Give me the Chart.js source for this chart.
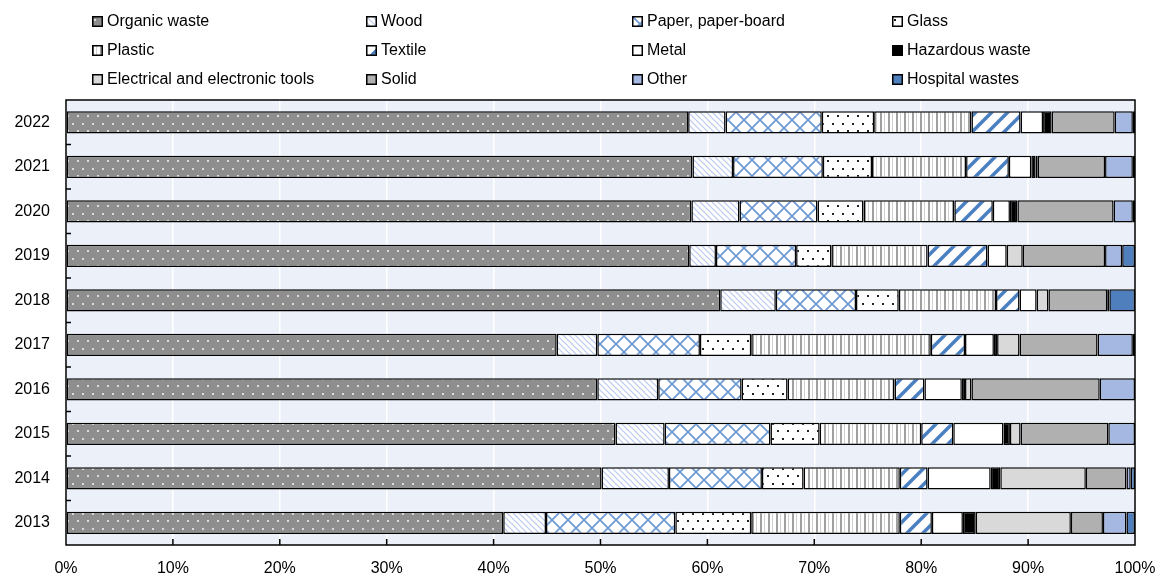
<!DOCTYPE html>
<html lang="en">
<head>
  <meta charset="UTF-8">
  <title>Waste composition</title>
  <script src="https://cdn.jsdelivr.net/npm/chart.js"></script>
  <style>
    body { margin: 0; background: #fff; font-family: "Liberation Sans", Arial, sans-serif; }
    #wrap { position: relative; width: 1162px; height: 579px; }
    #legend { position: absolute; left: 0; top: 0; width: 1162px; height: 95px; }
    .item { position: absolute; display: flex; align-items: center; font-size: 16px; color: #000; white-space: nowrap; }
    .item canvas { margin-right: 4px; }
  </style>
</head>
<body>
  <div id="wrap">
    <canvas id="chart" width="1162" height="579"></canvas>
    <div id="legend"></div>
  </div>

  <script>
    // categories (top to bottom)
    const years = ['2022', '2021', '2020', '2019', '2018', '2017', '2016', '2015', '2014', '2013'];

    // shares in %
    const organic    = [58.2, 58.6, 58.5, 58.3, 61.2, 45.9, 49.7, 51.4, 50.1, 40.9];
    const wood       = [3.5, 3.8, 4.5, 2.5, 5.2, 3.8, 5.7, 4.6, 6.3, 4.0];
    const paper      = [9.0, 8.4, 7.3, 7.5, 7.5, 9.6, 7.8, 9.9, 8.7, 12.1];
    const glass      = [4.9, 4.6, 4.3, 3.3, 4.0, 4.8, 4.3, 4.6, 3.9, 7.1];
    const plastic    = [9.1, 8.8, 8.5, 9.0, 9.1, 16.8, 10.0, 9.5, 9.0, 13.9];
    const textile    = [4.6, 4.0, 3.6, 5.6, 2.2, 3.2, 2.8, 3.0, 2.6, 3.0];
    const metal      = [2.1, 2.1, 1.6, 1.8, 1.6, 2.7, 3.5, 4.7, 5.9, 2.9];
    const hazardous  = [0.8, 0.4, 0.7, 0, 0, 0.3, 0.3, 0.6, 0.9, 1.2];
    const electrical = [0, 0.2, 0, 1.5, 1.1, 2.1, 0.6, 1.0, 8.0, 8.9];
    const solid      = [5.9, 6.3, 9.0, 7.7, 5.5, 7.3, 12.0, 8.2, 3.8, 3.0];
    const other      = [1.7, 2.6, 1.8, 1.6, 0.2, 3.3, 3.3, 2.5, 0.4, 2.2];
    const hospital   = [0.2, 0.2, 0.2, 1.2, 2.4, 0.2, 0, 0, 0.4, 0.8];

    const xTicks = [0, 10, 20, 30, 40, 50, 60, 70, 80, 90, 100];

    // draws the tile for each fill kind
    function makeTile(kind) {
      const c = document.createElement('canvas');
      let w = 8, h = 8;
      if (kind === 'organic' || kind === 'glass') { w = 10; h = 15; }
      if (kind === 'wood') { w = 6; h = 6; }
      if (kind === 'paper') { w = 16; h = 16; }
      if (kind === 'plastic') { w = 8; h = 8; }
      if (kind === 'textile') { w = 16; h = 16; }
      c.width = w; c.height = h;
      const g = c.getContext('2d');
      const solidFill = {
        metal: '#ffffff', hazardous: '#000000', electrical: '#d9d9d9',
        solid: '#b0b0b0', other: '#a4b8e2', hospital: '#4f7fbd'
      };
      if (solidFill[kind]) { g.fillStyle = solidFill[kind]; g.fillRect(0, 0, w, h); return c; }

      g.fillStyle = kind === 'organic' ? '#8e8e8e' : '#ffffff';
      g.fillRect(0, 0, w, h);

      if (kind === 'organic' || kind === 'glass') {
        g.fillStyle = kind === 'organic' ? '#dcdcdc' : '#222';
        g.fillRect(2, 3, 2, 2);
        g.fillRect(7, 10, 2, 2);
      } else if (kind === 'wood') {
        g.strokeStyle = '#b9c9ee'; g.lineWidth = 1.2;
        g.beginPath();
        g.moveTo(-1, -1); g.lineTo(w + 1, h + 1);
        g.moveTo(-1, h - 1); g.lineTo(1, h + 1);
        g.moveTo(w - 1, -1); g.lineTo(w + 1, 1);
        g.stroke();
      } else if (kind === 'paper') {
        g.strokeStyle = '#6f9ad4'; g.lineWidth = 1.8;
        g.beginPath();
        g.moveTo(0, 0); g.lineTo(w, h);
        g.moveTo(w, 0); g.lineTo(0, h);
        g.stroke();
      } else if (kind === 'plastic') {
        g.fillStyle = '#a0a0a0'; g.fillRect(0, 0, 2, h);
        g.fillStyle = '#d0d0d0'; g.fillRect(4, 0, 1, h);
      } else if (kind === 'textile') {
        g.strokeStyle = '#4a7fc1'; g.lineWidth = 3.5;
        g.beginPath();
        g.moveTo(-1, h + 1); g.lineTo(w + 1, -1);
        g.moveTo(-3, 3); g.lineTo(3, -3);
        g.moveTo(w - 3, h + 3); g.lineTo(w + 3, h - 3);
        g.stroke();
      }
      return c;
    }

    const ctx = document.getElementById('chart').getContext('2d');
    const pattern = kind => ctx.createPattern(makeTile(kind), 'repeat');

    const series = [
      { name: 'Organic waste', kind: 'organic', data: organic },
      { name: 'Wood', kind: 'wood', data: wood },
      { name: 'Paper, paper-board', kind: 'paper', data: paper },
      { name: 'Glass', kind: 'glass', data: glass },
      { name: 'Plastic', kind: 'plastic', data: plastic },
      { name: 'Textile', kind: 'textile', data: textile },
      { name: 'Metal', kind: 'metal', data: metal },
      { name: 'Hazardous waste', kind: 'hazardous', data: hazardous },
      { name: 'Electrical and electronic tools', kind: 'electrical', data: electrical },
      { name: 'Solid', kind: 'solid', data: solid },
      { name: 'Other', kind: 'other', data: other },
      { name: 'Hospital wastes', kind: 'hospital', data: hospital }
    ];

    // html legend, 4 columns x 3 rows
    const legendCols = [92, 366, 632, 892];
    const legendRows = [21, 50, 79];
    const legendDiv = document.getElementById('legend');
    series.forEach((s, i) => {
      const item = document.createElement('div');
      item.className = 'item';
      item.style.left = legendCols[i % 4] + 'px';
      item.style.top = (legendRows[Math.floor(i / 4)] - 9) + 'px';
      item.style.height = '18px';
      const sw = document.createElement('canvas');
      sw.width = 11; sw.height = 11;
      const sg = sw.getContext('2d');
      sg.fillStyle = sg.createPattern(makeTile(s.kind), 'repeat');
      sg.fillRect(0, 0, 11, 11);
      sg.strokeStyle = '#000'; sg.lineWidth = 1.5;
      sg.strokeRect(0.75, 0.75, 9.5, 9.5);
      item.appendChild(sw);
      item.appendChild(document.createTextNode(s.name));
      legendDiv.appendChild(item);
    });

    const plotFrame = {
      id: 'plotFrame',
      beforeDraw(chart) {
        const { ctx, chartArea: a } = chart;
        ctx.save();
        ctx.fillStyle = '#ecf0f8';
        ctx.fillRect(a.left, a.top, a.right - a.left, a.bottom - a.top);
        ctx.restore();
      },
      afterDraw(chart) {
        const { ctx, chartArea: a } = chart;
        const xs = chart.scales.x, ys = chart.scales.y;
        ctx.save();
        ctx.strokeStyle = '#000';
        ctx.lineWidth = 1.5;
        ctx.strokeRect(a.left, a.top, a.right - a.left, a.bottom - a.top);
        ctx.beginPath();
        xTicks.slice(1, -1).forEach(v => {
          const x = xs.getPixelForValue(v);
          ctx.moveTo(x, a.bottom); ctx.lineTo(x, a.bottom - 6);
        });
        const step = (a.bottom - a.top) / years.length;
        for (let i = 1; i < years.length; i++) {
          const y = ys.getPixelForValue(i) - step / 2;
          ctx.moveTo(a.left, y); ctx.lineTo(a.left + 5, y);
        }
        ctx.stroke();
        ctx.restore();
      }
    };

    new Chart(ctx, {
      type: 'bar',
      data: {
        labels: years,
        datasets: series.map(s => ({
          label: s.name,
          data: s.data,
          backgroundColor: pattern(s.kind),
          borderColor: '#000',
          borderWidth: 1.5,
          borderSkipped: false,
          barPercentage: 0.5,
          categoryPercentage: 1
        }))
      },
      options: {
        indexAxis: 'y',
        responsive: false,
        animation: false,
        layout: { padding: { top: 100, right: 27, left: 0, bottom: 0 } },
        plugins: {
          legend: { display: false },
          tooltip: { enabled: false }
        },
        scales: {
          x: {
            stacked: true,
            min: 0,
            max: 100,
            afterBuildTicks: scale => { scale.ticks = xTicks.map(v => ({ value: v })); },
            afterFit: scale => { scale.height = 34; scale.paddingLeft = 0; scale.paddingRight = 0; },
            grid: { color: '#ffffff', lineWidth: 1.5, drawTicks: false },
            border: { display: false },
            ticks: {
              padding: 14,
              color: '#000',
              font: { family: 'Liberation Sans', size: 16 },
              maxRotation: 0,
              callback: v => v + '%'
            }
          },
          y: {
            stacked: true,
            afterFit: scale => { scale.width = 66; },
            grid: { display: false, drawTicks: false },
            border: { display: false },
            ticks: {
              padding: 16,
              color: '#000',
              font: { family: 'Liberation Sans', size: 16 }
            }
          }
        }
      },
      plugins: [plotFrame]
    });
  </script>
</body>
</html>
